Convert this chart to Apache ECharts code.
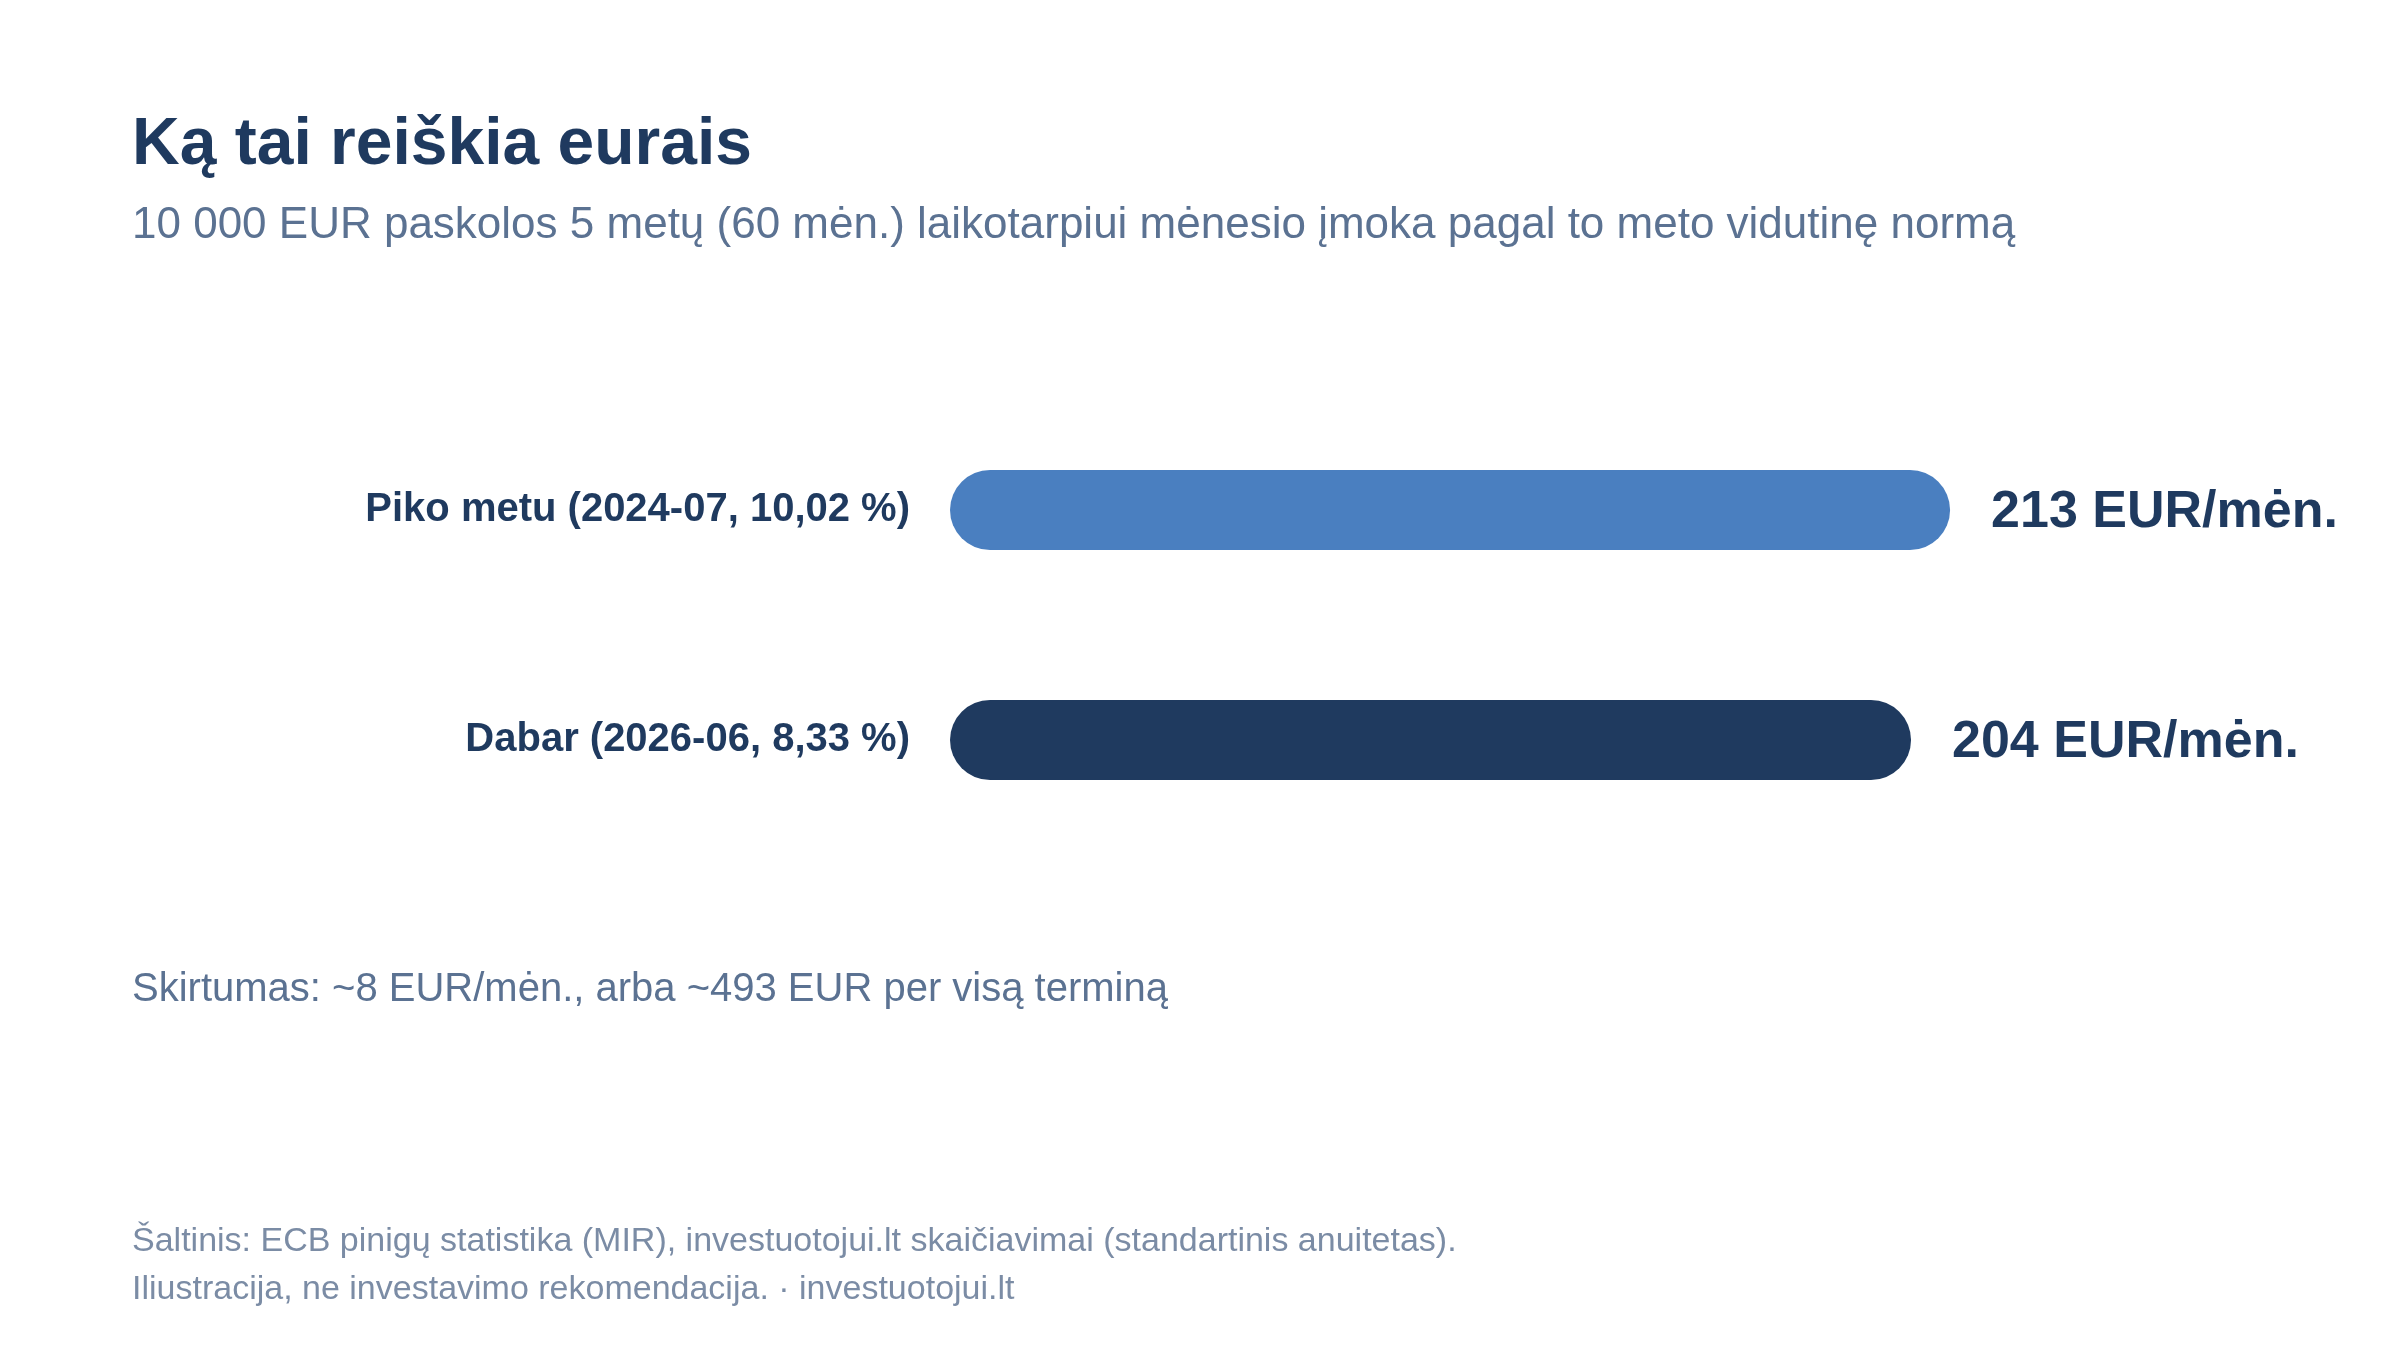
<!DOCTYPE html>
<html>
<head>
<meta charset="utf-8">
<title>Ką tai reiškia eurais</title>
<script src="https://cdn.jsdelivr.net/npm/echarts@6/dist/echarts.min.js"></script>
<style>
  html, body { margin: 0; padding: 0; background: #fff; }
  #main { width: 2400px; height: 1350px; }
</style>
</head>
<body>
<div id="main"></div>
<script>
// duomenys
var categories = ['Piko metu (2024-07, 10,02 %)', 'Dabar (2026-06, 8,33 %)'];
var payments = [212.6, 204.3];   // EUR/mėn.
var barColors = ['#4a7fc0', '#1f3a5f'];

var titleText = 'Ką tai reiškia eurais';
var subtitleText = '10 000 EUR paskolos 5 metų (60 mėn.) laikotarpiui mėnesio įmoka pagal to meto vidutinę normą';
var noteText = 'Skirtumas: ~8 EUR/mėn., arba ~493 EUR per visą terminą';
var sourceLines = [
    'Šaltinis: ECB pinigų statistika (MIR), investuotojui.lt skaičiavimai (standartinis anuitetas).',
    'Iliustracija, ne investavimo rekomendacija. · investuotojui.lt'
];

var FONT = '"Liberation Sans", Arial, Helvetica, sans-serif';
var DARK = '#1f3a5f';

function start() {
    var myChart = echarts.init(document.getElementById('main'));

    var barData = [];
    for (var i = 0; i < payments.length; i++) {
        barData.push({
            value: payments[i],
            itemStyle: { color: barColors[i] }
        });
    }

    var graphic = [
        {
            type: 'text', left: 132, top: 146 - 33,
            style: { text: titleText, fill: DARK, font: 'bold 66px ' + FONT }
        },
        {
            type: 'text', left: 132, top: 226 - 22,
            style: { text: subtitleText, fill: '#5b7292', font: '44px ' + FONT }
        },
        {
            type: 'text', left: 132, top: 990 - 20,
            style: { text: noteText, fill: '#5b7292', font: '40px ' + FONT }
        }
    ];
    for (var j = 0; j < sourceLines.length; j++) {
        graphic.push({
            type: 'text', left: 132, top: 1242 + j * 48 - 17,
            style: { text: sourceLines[j], fill: '#7b8ca5', font: '34px ' + FONT }
        });
    }

    var option = {
        backgroundColor: '#ffffff',
        animation: false,
        textStyle: { fontFamily: FONT },
        grid: { left: 950, right: 274, top: 395, height: 460, containLabel: false },
        xAxis: {
            type: 'value', min: 0, max: 250,
            show: false
        },
        yAxis: {
            type: 'category',
            data: categories,
            inverse: true,
            axisLine: { show: false },
            axisTick: { show: false },
            splitLine: { show: false },
            axisLabel: {
                margin: 40,
                color: DARK,
                fontSize: 40,
                fontWeight: 'bold',
                fontFamily: FONT
            }
        },
        graphic: graphic,
        series: [{
            type: 'bar',
            data: barData,
            barWidth: 80,
            itemStyle: { borderRadius: 40 },
            label: {
                show: true,
                position: 'right',
                distance: 41,
                offset: [0, 3],
                color: DARK,
                fontSize: 52,
                fontWeight: 'bold',
                fontFamily: FONT,
                formatter: function (p) { return Math.round(p.value) + ' EUR/mėn.'; }
            }
        }]
    };
    myChart.setOption(option);
}
start();
</script>
</body>
</html>
